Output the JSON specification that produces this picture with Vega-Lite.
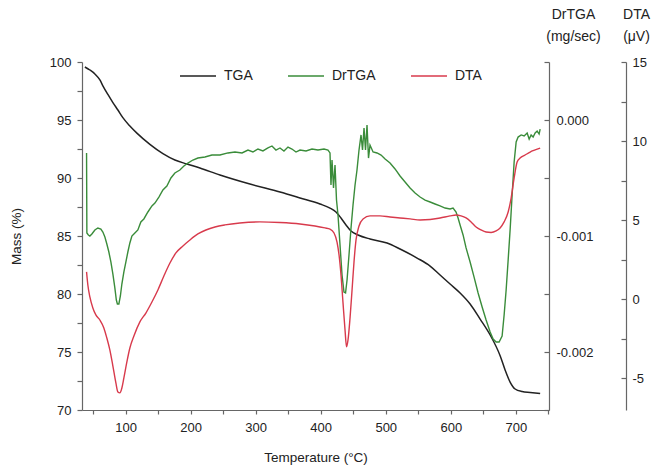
{
  "$schema": "https://vega.github.io/schema/vega-lite/v6.json",
  "width": 467,
  "height": 348,
  "autosize": {"type": "none"},
  "padding": {"left": 82, "top": 62, "right": 107, "bottom": 56},
  "background": "white",
  "config": {
    "view": {"stroke": null},
    "font": "Liberation Sans",
    "axis": {
      "grid": false,
      "domainColor": "#666666",
      "tickColor": "#666666",
      "labelColor": "#222222",
      "titleColor": "#222222",
      "labelFont": "Liberation Sans",
      "titleFont": "Liberation Sans",
      "labelFontSize": 13,
      "titleFontSize": 13.5,
      "titleFontWeight": "normal",
      "domainWidth": 1.2,
      "tickWidth": 1.2
    }
  },
  "datasets": {
    "tga": [
      {"temp": 37.4, "mass": 99.57}, {"temp": 45.1, "mass": 99.31}, {"temp": 52.8, "mass": 98.97},
      {"temp": 60.5, "mass": 98.45}, {"temp": 65.1, "mass": 97.95}, {"temp": 72.8, "mass": 97.2},
      {"temp": 80.5, "mass": 96.5}, {"temp": 88.2, "mass": 95.86}, {"temp": 95.8, "mass": 95.2},
      {"temp": 106.6, "mass": 94.48}, {"temp": 117.4, "mass": 93.87}, {"temp": 137.4, "mass": 92.9},
      {"temp": 157.4, "mass": 92.1}, {"temp": 175.8, "mass": 91.55}, {"temp": 194.3, "mass": 91.21},
      {"temp": 214.3, "mass": 90.86}, {"temp": 245.1, "mass": 90.26}, {"temp": 291.2, "mass": 89.48},
      {"temp": 337.4, "mass": 88.79}, {"temp": 368.2, "mass": 88.28}, {"temp": 398.9, "mass": 87.76},
      {"temp": 414.3, "mass": 87.41}, {"temp": 423.5, "mass": 87.07}, {"temp": 431.2, "mass": 86.55},
      {"temp": 438.9, "mass": 85.95}, {"temp": 446.6, "mass": 85.43}, {"temp": 457.4, "mass": 85.09},
      {"temp": 475.8, "mass": 84.74}, {"temp": 502.0, "mass": 84.40}, {"temp": 522.0, "mass": 83.88},
      {"temp": 548.2, "mass": 83.10}, {"temp": 568.2, "mass": 82.41}, {"temp": 583.5, "mass": 81.64},
      {"temp": 598.9, "mass": 80.86}, {"temp": 614.3, "mass": 80.09}, {"temp": 629.7, "mass": 79.14},
      {"temp": 645.1, "mass": 77.84}, {"temp": 660.5, "mass": 76.47}, {"temp": 676.0, "mass": 74.66},
      {"temp": 683.5, "mass": 73.45}, {"temp": 691.2, "mass": 72.41}, {"temp": 698.9, "mass": 71.81},
      {"temp": 709.7, "mass": 71.59}, {"temp": 722.0, "mass": 71.51}, {"temp": 737.4, "mass": 71.42}
    ],
    "drtga": [
      {"temp": 40.0, "rate": -0.000284}, {"temp": 40.5, "rate": -0.000974}, {"temp": 42.8, "rate": -0.000991},
      {"temp": 45.1, "rate": -0.001000}, {"temp": 48.2, "rate": -0.000983}, {"temp": 52.8, "rate": -0.000948},
      {"temp": 57.4, "rate": -0.000931}, {"temp": 62.0, "rate": -0.000940}, {"temp": 65.1, "rate": -0.000966},
      {"temp": 68.2, "rate": -0.001009}, {"temp": 71.2, "rate": -0.001069}, {"temp": 74.3, "rate": -0.001138},
      {"temp": 77.4, "rate": -0.001224}, {"temp": 80.5, "rate": -0.001328}, {"temp": 83.5, "rate": -0.001448},
      {"temp": 85.8, "rate": -0.001552}, {"temp": 87.4, "rate": -0.001586}, {"temp": 89.7, "rate": -0.001586},
      {"temp": 92.0, "rate": -0.001517}, {"temp": 94.3, "rate": -0.001414}, {"temp": 97.4, "rate": -0.001310},
      {"temp": 100.5, "rate": -0.001224}, {"temp": 103.5, "rate": -0.001138}, {"temp": 106.6, "rate": -0.001060},
      {"temp": 109.7, "rate": -0.001000}, {"temp": 114.3, "rate": -0.000974}, {"temp": 118.9, "rate": -0.000948},
      {"temp": 123.5, "rate": -0.000879}, {"temp": 128.1, "rate": -0.000853}, {"temp": 134.3, "rate": -0.000793},
      {"temp": 140.5, "rate": -0.000741}, {"temp": 145.1, "rate": -0.000716}, {"temp": 151.2, "rate": -0.000664},
      {"temp": 157.4, "rate": -0.000603}, {"temp": 163.5, "rate": -0.000569}, {"temp": 169.7, "rate": -0.000500},
      {"temp": 175.8, "rate": -0.000457}, {"temp": 183.5, "rate": -0.000431}, {"temp": 189.7, "rate": -0.000397},
      {"temp": 195.8, "rate": -0.000371}, {"temp": 203.5, "rate": -0.000345}, {"temp": 211.2, "rate": -0.000328},
      {"temp": 222.0, "rate": -0.000319}, {"temp": 232.8, "rate": -0.000302}, {"temp": 245.1, "rate": -0.000302},
      {"temp": 257.4, "rate": -0.000284}, {"temp": 268.2, "rate": -0.000276}, {"temp": 279.0, "rate": -0.000284},
      {"temp": 288.2, "rate": -0.000259}, {"temp": 295.8, "rate": -0.000276}, {"temp": 303.5, "rate": -0.000250},
      {"temp": 311.2, "rate": -0.000267}, {"temp": 318.9, "rate": -0.000241}, {"temp": 325.1, "rate": -0.000224},
      {"temp": 331.2, "rate": -0.000259}, {"temp": 337.4, "rate": -0.000241}, {"temp": 343.5, "rate": -0.000267},
      {"temp": 349.7, "rate": -0.000233}, {"temp": 355.8, "rate": -0.000250}, {"temp": 362.0, "rate": -0.000276},
      {"temp": 368.2, "rate": -0.000259}, {"temp": 377.4, "rate": -0.000267}, {"temp": 386.6, "rate": -0.000250},
      {"temp": 395.8, "rate": -0.000259}, {"temp": 405.1, "rate": -0.000250}, {"temp": 411.2, "rate": -0.000259},
      {"temp": 414.3, "rate": -0.000284}, {"temp": 415.8, "rate": -0.000560}, {"temp": 417.4, "rate": -0.000345},
      {"temp": 419.7, "rate": -0.000586}, {"temp": 422.0, "rate": -0.000388}, {"temp": 424.3, "rate": -0.000690},
      {"temp": 426.6, "rate": -0.000819}, {"temp": 429.7, "rate": -0.001078}, {"temp": 432.8, "rate": -0.001336},
      {"temp": 435.8, "rate": -0.001483}, {"temp": 438.2, "rate": -0.001491}, {"temp": 440.5, "rate": -0.001379},
      {"temp": 443.5, "rate": -0.001164}, {"temp": 446.6, "rate": -0.000931}, {"temp": 449.7, "rate": -0.000733},
      {"temp": 452.8, "rate": -0.000560}, {"temp": 455.8, "rate": -0.000431}, {"temp": 458.9, "rate": -0.000259},
      {"temp": 462.0, "rate": -0.000129}, {"temp": 464.3, "rate": -0.000259}, {"temp": 466.6, "rate": -0.000069},
      {"temp": 468.9, "rate": -0.000259}, {"temp": 471.2, "rate": -0.000043}, {"temp": 473.5, "rate": -0.000328},
      {"temp": 475.8, "rate": -0.000216}, {"temp": 480.5, "rate": -0.000276}, {"temp": 486.6, "rate": -0.000284},
      {"temp": 492.8, "rate": -0.000302}, {"temp": 499.0, "rate": -0.000336}, {"temp": 506.6, "rate": -0.000371},
      {"temp": 514.3, "rate": -0.000422}, {"temp": 522.0, "rate": -0.000483}, {"temp": 529.7, "rate": -0.000534},
      {"temp": 537.4, "rate": -0.000586}, {"temp": 545.1, "rate": -0.000629}, {"temp": 552.8, "rate": -0.000664},
      {"temp": 560.5, "rate": -0.000690}, {"temp": 568.2, "rate": -0.000707}, {"temp": 575.8, "rate": -0.000724},
      {"temp": 583.5, "rate": -0.000741}, {"temp": 591.2, "rate": -0.000759}, {"temp": 598.9, "rate": -0.000767},
      {"temp": 603.5, "rate": -0.000759}, {"temp": 608.1, "rate": -0.000793}, {"temp": 611.2, "rate": -0.000845},
      {"temp": 614.3, "rate": -0.000905}, {"temp": 618.9, "rate": -0.000991}, {"temp": 623.5, "rate": -0.001103},
      {"temp": 629.7, "rate": -0.001224}, {"temp": 635.8, "rate": -0.001354}, {"temp": 642.0, "rate": -0.001491},
      {"temp": 648.2, "rate": -0.001612}, {"temp": 654.3, "rate": -0.001724}, {"temp": 660.5, "rate": -0.001828},
      {"temp": 665.1, "rate": -0.001888}, {"temp": 669.7, "rate": -0.001914}, {"temp": 674.3, "rate": -0.001914},
      {"temp": 678.9, "rate": -0.001862}, {"temp": 682.0, "rate": -0.001681}, {"temp": 685.1, "rate": -0.001466},
      {"temp": 688.2, "rate": -0.001207}, {"temp": 691.2, "rate": -0.000948}, {"temp": 694.3, "rate": -0.000647},
      {"temp": 697.4, "rate": -0.000362}, {"temp": 700.5, "rate": -0.000190}, {"temp": 703.5, "rate": -0.000147},
      {"temp": 708.2, "rate": -0.000129}, {"temp": 712.8, "rate": -0.000138}, {"temp": 717.4, "rate": -0.000112},
      {"temp": 720.5, "rate": -0.000164}, {"temp": 723.5, "rate": -0.000129}, {"temp": 726.6, "rate": -0.000147},
      {"temp": 729.7, "rate": -0.000112}, {"temp": 732.8, "rate": -0.000095}, {"temp": 735.8, "rate": -0.000121},
      {"temp": 737.4, "rate": -0.000078}
    ],
    "dta": [
      {"temp": 40.0, "uv": 1.73}, {"temp": 42.0, "uv": 0.90}, {"temp": 45.1, "uv": 0.15},
      {"temp": 49.7, "uv": -0.55}, {"temp": 54.3, "uv": -0.99}, {"temp": 60.5, "uv": -1.31},
      {"temp": 66.6, "uv": -1.81}, {"temp": 71.2, "uv": -2.45}, {"temp": 75.8, "uv": -3.20},
      {"temp": 80.5, "uv": -4.22}, {"temp": 85.1, "uv": -5.29}, {"temp": 88.2, "uv": -5.86},
      {"temp": 91.2, "uv": -5.92}, {"temp": 94.3, "uv": -5.61}, {"temp": 97.4, "uv": -4.97},
      {"temp": 102.0, "uv": -3.96}, {"temp": 106.6, "uv": -3.08}, {"temp": 112.8, "uv": -2.32},
      {"temp": 122.0, "uv": -1.43}, {"temp": 131.2, "uv": -0.87}, {"temp": 140.5, "uv": -0.17},
      {"temp": 149.7, "uv": 0.59}, {"temp": 158.9, "uv": 1.47}, {"temp": 168.2, "uv": 2.29},
      {"temp": 177.4, "uv": 2.93}, {"temp": 188.2, "uv": 3.37}, {"temp": 198.9, "uv": 3.75},
      {"temp": 211.2, "uv": 4.13}, {"temp": 223.5, "uv": 4.38}, {"temp": 237.4, "uv": 4.57},
      {"temp": 252.8, "uv": 4.70}, {"temp": 275.8, "uv": 4.82}, {"temp": 306.6, "uv": 4.89},
      {"temp": 337.4, "uv": 4.85}, {"temp": 368.2, "uv": 4.76}, {"temp": 391.2, "uv": 4.63},
      {"temp": 406.6, "uv": 4.51}, {"temp": 414.3, "uv": 4.44}, {"temp": 420.5, "uv": 4.19},
      {"temp": 425.1, "uv": 3.62}, {"temp": 428.2, "uv": 2.80}, {"temp": 431.2, "uv": 1.54},
      {"temp": 434.3, "uv": -0.23}, {"temp": 437.4, "uv": -1.94}, {"temp": 439.7, "uv": -3.01},
      {"temp": 442.0, "uv": -2.57}, {"temp": 445.1, "uv": -1.18}, {"temp": 448.2, "uv": 0.59},
      {"temp": 451.2, "uv": 2.36}, {"temp": 454.3, "uv": 3.75}, {"temp": 458.9, "uv": 4.63},
      {"temp": 465.1, "uv": 5.08}, {"temp": 475.8, "uv": 5.27}, {"temp": 491.2, "uv": 5.27},
      {"temp": 506.6, "uv": 5.20}, {"temp": 522.0, "uv": 5.14}, {"temp": 537.4, "uv": 5.08},
      {"temp": 552.8, "uv": 5.01}, {"temp": 568.2, "uv": 5.04}, {"temp": 583.5, "uv": 5.14},
      {"temp": 598.9, "uv": 5.27}, {"temp": 608.1, "uv": 5.33}, {"temp": 615.8, "uv": 5.27},
      {"temp": 623.5, "uv": 5.14}, {"temp": 631.2, "uv": 4.89}, {"temp": 638.9, "uv": 4.57},
      {"temp": 646.6, "uv": 4.38}, {"temp": 654.3, "uv": 4.25}, {"temp": 662.0, "uv": 4.22},
      {"temp": 669.7, "uv": 4.32}, {"temp": 675.8, "uv": 4.51}, {"temp": 682.0, "uv": 4.89},
      {"temp": 688.2, "uv": 5.52}, {"temp": 692.8, "uv": 6.40}, {"temp": 697.4, "uv": 7.67},
      {"temp": 702.0, "uv": 8.68}, {"temp": 706.6, "uv": 8.93}, {"temp": 714.3, "uv": 9.12},
      {"temp": 722.0, "uv": 9.31}, {"temp": 729.7, "uv": 9.44}, {"temp": 737.4, "uv": 9.56}
    ]
  },
  "encoding": {
    "x": {
      "field": "temp",
      "type": "quantitative",
      "scale": {"domain": [33, 751], "nice": false, "zero": false},
      "axis": {
        "title": "Temperature (°C)",
        "values": [50, 100, 150, 200, 250, 300, 350, 400, 450, 500, 550, 600, 650, 700, 750],
        "labelExpr": "datum.value % 100 === 0 ? datum.label : ''",
        "tickSize": 4,
        "labelPadding": 7,
        "titlePadding": 16,
        "labelFlush": false
      }
    }
  },
  "layer": [
    {
      "data": {"name": "tga"},
      "mark": {"type": "line", "strokeWidth": 1.5, "interpolate": "monotone"},
      "encoding": {
        "y": {
          "field": "mass",
          "type": "quantitative",
          "scale": {"domain": [70, 100], "nice": false, "zero": false},
          "axis": {
            "orient": "left",
            "title": "Mass (%)",
            "values": [70, 72.5, 75, 77.5, 80, 82.5, 85, 87.5, 90, 92.5, 95, 97.5, 100],
            "labelExpr": "datum.value % 5 === 0 ? datum.label : ''",
            "tickSize": 5,
            "labelPadding": 6,
            "titlePadding": 26,
            "labelFlush": false
          }
        },
        "color": {
          "datum": "TGA",
          "type": "nominal",
          "scale": {"domain": ["TGA", "DrTGA", "DTA"], "range": ["#222222", "#3a8c3a", "#d83a4c"]},
          "legend": {
            "title": null,
            "orient": "none",
            "direction": "horizontal",
            "legendX": 97,
            "legendY": -5,
            "symbolType": "stroke",
            "symbolSize": 1300,
            "symbolStrokeWidth": 1.5,
            "labelFontSize": 14,
            "labelFont": "Liberation Sans",
            "labelColor": "#222222",
            "labelOffset": 7,
            "columnPadding": 31
          }
        }
      }
    },
    {
      "data": {"name": "drtga"},
      "mark": {"type": "line", "strokeWidth": 1.4},
      "encoding": {
        "y": {
          "field": "rate",
          "type": "quantitative",
          "scale": {"domain": [-0.0025, 0.0005], "nice": false, "zero": false},
          "axis": {
            "orient": "right",
            "title": ["DrTGA", "(mg/sec)"],
            "titleAngle": 0,
            "titleAlign": "center",
            "titleBaseline": "top",
            "titleFontSize": 14,
            "titleX": 24,
            "titleY": -55,
            "titleLineHeight": 22,
            "values": [-0.0025, -0.002, -0.0015, -0.001, -0.0005, 0, 0.0005],
            "labelExpr": "abs(datum.value * 1000 - round(datum.value * 1000)) < 0.001 ? replace(format(datum.value, '.3f'), '\u2212', '-') : ''",
            "tickSize": -5,
            "labelPadding": 12,
            "labelFlush": false
          }
        },
        "color": {"datum": "DrTGA", "type": "nominal"}
      }
    },
    {
      "data": {"name": "dta"},
      "mark": {"type": "line", "strokeWidth": 1.4, "interpolate": "monotone"},
      "encoding": {
        "y": {
          "field": "uv",
          "type": "quantitative",
          "scale": {"domain": [-7, 15], "nice": false, "zero": false},
          "axis": {
            "orient": "right",
            "offset": 77,
            "title": ["DTA", "(μV)"],
            "titleAngle": 0,
            "titleAlign": "center",
            "titleBaseline": "top",
            "titleFontSize": 14,
            "titleX": 10,
            "titleY": -55,
            "titleLineHeight": 22,
            "values": [-5, -2.5, 0, 2.5, 5, 7.5, 10, 12.5, 15],
            "labelExpr": "datum.value % 5 === 0 ? replace(datum.label, '\u2212', '-') : ''",
            "tickSize": -5,
            "labelPadding": 11,
            "labelFlush": false
          }
        },
        "color": {"datum": "DTA", "type": "nominal"}
      }
    }
  ],
  "resolve": {"scale": {"y": "independent"}}
}
